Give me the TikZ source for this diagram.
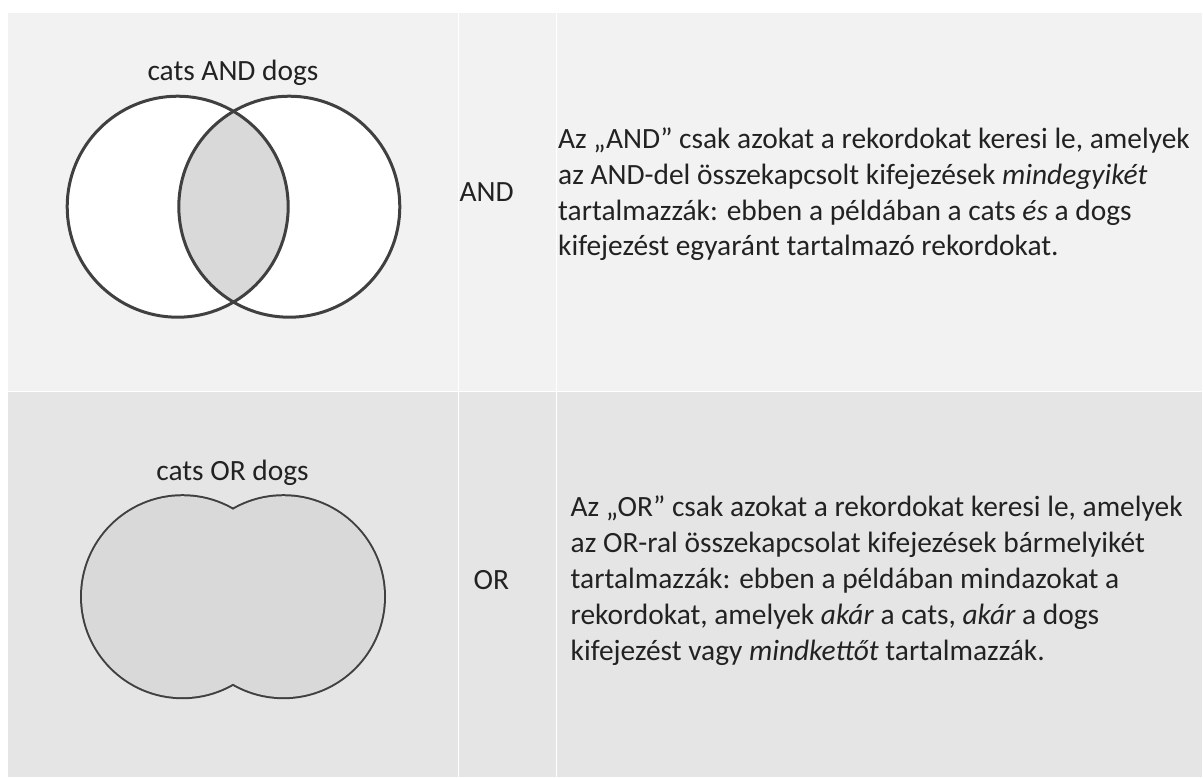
\documentclass[tikz,border=0pt]{standalone}
\usepackage{fontspec}
\setmainfont{Carlito}

\definecolor{rowlight}{HTML}{F2F2F2}
\definecolor{rowdark}{HTML}{E5E5E5}
\definecolor{vennfill}{HTML}{D9D9D9}
\definecolor{vennline}{HTML}{404040}
\definecolor{textdark}{HTML}{222222}

\tikzset{
  cellrule/.style={draw=white, line width=1.6pt},
  setline/.style={draw=vennline, line width=3pt},
  txt/.style={inner sep=0pt, text=textdark, font=\fontsize{29.4}{35.8}\selectfont},
  para/.style={txt, align=left, anchor=north west},
}

\begin{document}
\begin{tikzpicture}[x=1pt, y=-1pt]
\useasboundingbox (0,0) rectangle (1203,777);
\fill[white] (0,0) rectangle (1203,777);

% table rows
\fill[rowlight] (7.5,13) rectangle (1203,391.5);
\fill[rowdark] (7.5,391.5) rectangle (1203,777);

% cell rules
\draw[cellrule] (7.5,391.5) -- (1203,391.5);
\draw[cellrule] (458.3,13) -- (458.3,777);
\draw[cellrule] (556.5,13) -- (556.5,777);
\draw[cellrule] (1202.4,13) -- (1202.4,777);

% ---- AND: two sets, shaded intersection
\coordinate (cl) at (177.7,206.7);
\coordinate (cr) at (289.3,206.7);
\fill[white] (cl) circle[radius=110.5];
\fill[white] (cr) circle[radius=110.5];
\begin{scope}
  \clip (cl) circle[radius=110.5];
  \fill[vennfill] (cr) circle[radius=110.5];
\end{scope}
\draw[setline] (cl) circle[radius=110.5];
\draw[setline] (cr) circle[radius=110.5];
\node[txt, anchor=base] (andtitle) at (233,80.7) {cats AND dogs};

% ---- OR: union of two sets (outline on the outer boundary only)
\coordinate (ol) at (182.5,596.7);
\coordinate (or) at (283.5,596.7);
\draw[draw=vennline, line width=4pt] (ol) circle[radius=100.5];
\draw[draw=vennline, line width=4pt] (or) circle[radius=100.5];
\fill[vennfill] (ol) circle[radius=100.5];
\fill[vennfill] (or) circle[radius=100.5];
\node[txt, anchor=base] (ortitle) at (232.5,480) {cats OR dogs};

% ---- operator column
\node[txt, anchor=base west] (andop) at (459.5,201.7) {AND};
\node[txt, anchor=base west] (orop) at (473.5,589.3) {OR};

% ---- descriptions
\node[para] (anddesc) at (558,123.2) {\strut Az „AND” csak azokat a rekordokat keresi le, amelyek\\
az AND-del összekapcsolt kifejezések \textit{mindegyikét}\\
tartalmazzák: ebben a példában a cats \textit{és} a dogs\\
kifejezést egyaránt tartalmazó rekordokat.};

\node[para] (ordesc) at (570.5,491.6) {\strut Az „OR” csak azokat a rekordokat keresi le, amelyek\\
az OR-ral összekapcsolat kifejezések bármelyikét\\
tartalmazzák: ebben a példában mindazokat a\\
rekordokat, amelyek \textit{akár} a cats, \textit{akár} a dogs\\
kifejezést vagy \textit{mindkettőt} tartalmazzák.};
\end{tikzpicture}
\end{document}
